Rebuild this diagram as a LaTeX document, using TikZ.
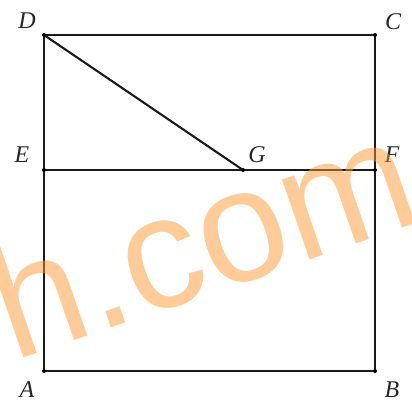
\documentclass[tikz,border=0pt]{standalone}
\usepackage{fontspec}
\setmainfont{Liberation Serif}
\newfontfamily\wmfont{Liberation Sans}
\definecolor{wmOrange}{RGB}{255,153,51}

\begin{document}
\begin{tikzpicture}[x=1pt, y=1pt,
    lbl/.style={font=\fontsize{24}{24}\selectfont\itshape, text=black!85},
    edge/.style={line width=2.1pt, black!90},
    wm/.style={font=\wmfont\fontsize{160}{160}\selectfont, text=wmOrange,
        text opacity=0.5, inner sep=0pt},
]
\useasboundingbox (0,0) rectangle (412,399);

% Points of the square
\coordinate (A) at (44,28);
\coordinate (B) at (375,28);
\coordinate (C) at (375,364);
\coordinate (D) at (44,364);
\coordinate (E) at (44,229);
\coordinate (F) at (375,229);
\coordinate (G) at (243,229);

% Sides and segments
\draw[edge] (A) -- (B) -- (C) -- (D) -- cycle;
\draw[edge] (E) -- (F);
\draw[edge] (D) -- (G);

% Vertex dots
\foreach \p in {A,B,C,D,E,F,G} {
    \fill[black] (\p) circle (2);
}

% Labels
\node[lbl] (lA) at (27,9) {A};
\node[lbl] (lB) at (392,9) {B};
\node[lbl] (lC) at (393,377) {C};
\node[lbl] (lD) at (27,378) {D};
\node[lbl] (lE) at (22,244) {E};
\node[lbl] (lF) at (392,244) {F};
\node[lbl] (lG) at (257,244) {G};

% Watermark
\begin{scope}
\clip (0,0) rectangle (412,399);
\node[wm, rotate=19, anchor=base west] (wmark) at (13,37) {h.com};
\end{scope}

\end{tikzpicture}
\end{document}
